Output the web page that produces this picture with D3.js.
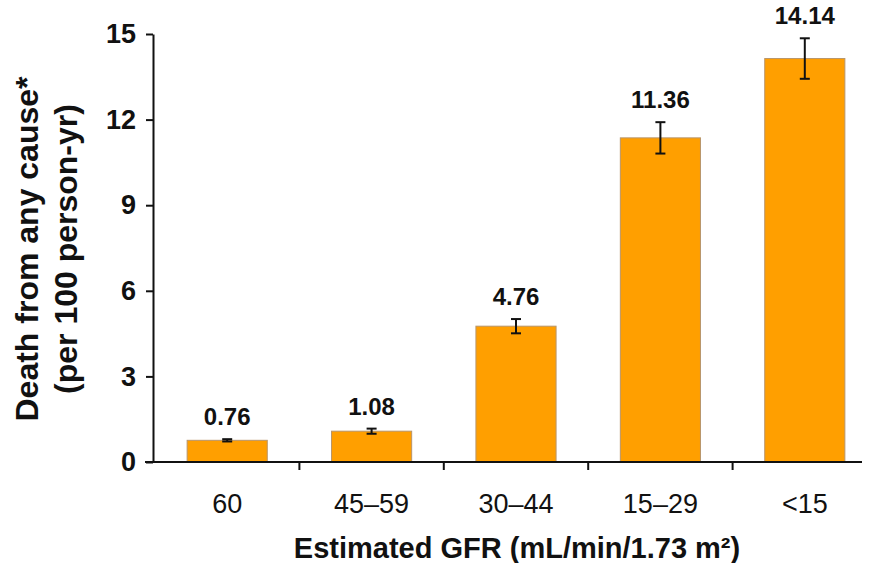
<!DOCTYPE html>
<html><head><meta charset="utf-8">
<script src="https://cdn.jsdelivr.net/npm/d3@7"></script>
<style>body{margin:0;background:#fff}svg{display:block}text{font-family:"Liberation Sans",Arial,sans-serif;fill:#111}</style>
</head><body><svg id="c" width="869" height="563"></svg>
<script>
const categories = ["60", "45\u201359", "30\u201344", "15\u201329", "<15"];
const values = [0.76, 1.08, 4.76, 11.36, 14.14];
const errors = [0.04, 0.09, 0.25, 0.55, 0.71];
const yTicks = [0, 3, 6, 9, 12, 15];
const xTitle = "Estimated GFR (mL/min/1.73 m\u00B2)";
const yTitle = ["Death from any cause*", "(per 100 person-yr)"];

const svg = d3.select("#c");
const x0 = 153, xEnd = 877, y0 = 462, yTop = 34;
const x = d3.scaleBand().domain(categories).range([x0 + 2, xEnd]).paddingInner(0.445).paddingOuter(0.2225);
const y = d3.scaleLinear().domain([0, 15]).range([y0, yTop]);

// bars
svg.selectAll("rect.bar").data(values).join("rect")
  .attr("x", (d, i) => x(categories[i]))
  .attr("width", x.bandwidth())
  .attr("y", d => y(d))
  .attr("height", d => y0 - y(d))
  .attr("fill", "#FF9F00")
  .attr("stroke", "#b8956a").attr("stroke-width", 1);

// error bars
const eg = svg.append("g").attr("stroke", "#111").attr("stroke-width", 2);
values.forEach((v, i) => {
  const cx = x(categories[i]) + x.bandwidth() / 2;
  const hi = y(v + errors[i]), lo = y(v - errors[i]);
  eg.append("line").attr("x1", cx).attr("x2", cx).attr("y1", hi).attr("y2", lo);
  eg.append("line").attr("x1", cx - 5).attr("x2", cx + 5).attr("y1", hi).attr("y2", hi);
  eg.append("line").attr("x1", cx - 5).attr("x2", cx + 5).attr("y1", lo).attr("y2", lo);
});

// value labels
svg.selectAll("text.val").data(values).join("text")
  .attr("x", (d, i) => x(categories[i]) + x.bandwidth() / 2)
  .attr("y", (d, i) => y(d + errors[i]) - 14)
  .attr("text-anchor", "middle")
  .attr("font-size", 24).attr("font-weight", "bold")
  .text(d => d.toFixed(2));

// y axis
const ya = svg.append("g").attr("transform", `translate(${x0},0)`)
  .call(d3.axisLeft(y).tickValues(yTicks).tickSize(7).tickSizeOuter(0).tickPadding(10));
ya.select(".domain").attr("stroke", "#111").attr("stroke-width", 2);
ya.selectAll(".tick line").attr("stroke", "#111").attr("stroke-width", 2);
ya.selectAll(".tick text").attr("font-size", 27).attr("font-weight", "bold").attr("fill", "#111")
  .attr("font-family", "Liberation Sans, Arial, sans-serif");

// x axis
const xa = svg.append("g").attr("transform", `translate(0,${y0})`);
xa.append("line").attr("x1", x0 - 8).attr("x2", 862).attr("y1", 0).attr("y2", 0)
  .attr("stroke", "#111").attr("stroke-width", 2);
categories.slice(1).forEach(c => {
  const tx = x(c) - x.step() * x.paddingInner() / 2;
  xa.append("line").attr("x1", tx).attr("x2", tx).attr("y1", 0).attr("y2", 8)
    .attr("stroke", "#111").attr("stroke-width", 2);
});
xa.selectAll("text.cat").data(categories).join("text")
  .attr("x", d => x(d) + x.bandwidth() / 2)
  .attr("y", 51)
  .attr("text-anchor", "middle")
  .attr("font-size", 27)
  .attr("transform-origin", "center")
  .text(d => d);

// titles
svg.append("text").attr("x", 517).attr("y", 558).attr("text-anchor", "middle")
  .attr("font-size", 29).attr("font-weight", "bold").text(xTitle);
yTitle.forEach((t, i) => {
  svg.append("text").attr("transform", `translate(${38 + i * 39},249) rotate(-90)`)
    .attr("text-anchor", "middle").attr("font-size", 32).attr("font-weight", "bold").text(t);
});
</script></body></html>
